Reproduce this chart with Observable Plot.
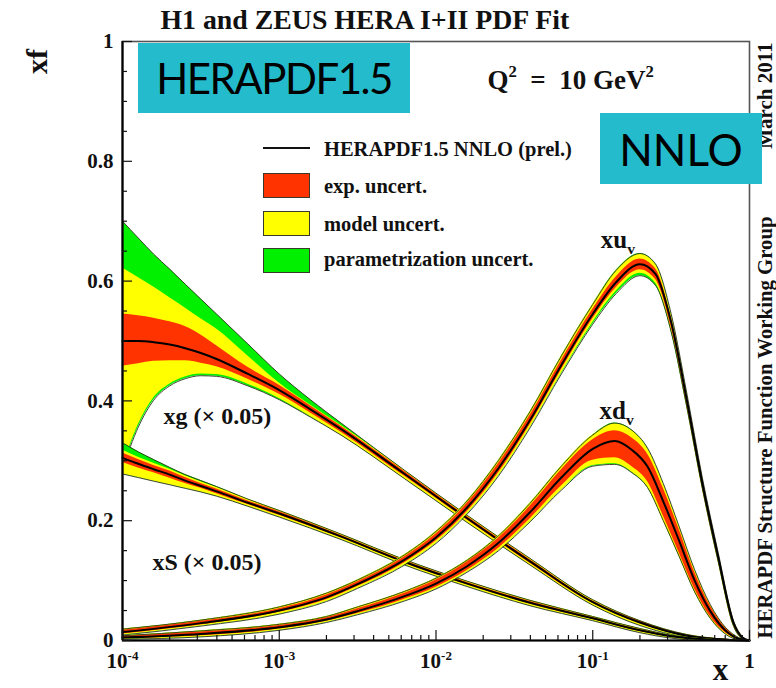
<!DOCTYPE html>
<html>
<head>
<meta charset="utf-8">
<script src="https://cdn.jsdelivr.net/npm/d3@7"></script>
<script src="https://cdn.jsdelivr.net/npm/@observablehq/plot@0.6"></script>
<style>
  html, body { margin: 0; padding: 0; background: #fff; }
  #chart { position: relative; width: 776px; height: 688px; overflow: hidden; }
  #chart svg { position: absolute; left: 0; top: 0; }
  .tag { position: absolute; background: #24bccc; color: #000; font-family: Lato, "Open Sans", sans-serif;
         display: flex; align-items: center; justify-content: center; }
  .legend { position: absolute; left: 0; top: 0; font-family: "Liberation Serif", serif; font-weight: bold; }
  .legend .sw { position: absolute; width: 45px; height: 23px; border: 1.5px solid #3a3a2a; }
  .legend .ln { position: absolute; width: 47px; height: 0; border-top: 2px solid #111; }
  .legend .lab { position: absolute; font-size: 20.5px; line-height: 1; white-space: nowrap; color: #111; }
</style>
</head>
<body>
<div id="chart"></div>
<script>
// HERAPDF1.5 NNLO parton distributions at Q^2 = 10 GeV^2 (xg and xS scaled by 0.05)

// axis ticks
const xTicks = [1e-4, 1e-3, 1e-2, 1e-1, 1];
const xTickLabels = ["10^{-4}", "10^{-3}", "10^{-2}", "10^{-1}", "1"];
const yTicks = [0, 0.2, 0.4, 0.6, 0.8, 1];
const yTickLabels = ["0", "0.2", "0.4", "0.6", "0.8", "1"];
const yMinorStep = 0.05;

// gluon xg (x 0.05)
const xgX       = [1e-4, 1.26e-4, 1.58e-4, 2.0e-4, 2.51e-4, 3.16e-4, 3.98e-4, 6.31e-4, 1e-3, 1.58e-3, 2.51e-3, 6.31e-3, 0.0158, 0.0398, 0.1, 0.2, 0.398, 0.631, 1];
const xgCentral = [0.500, 0.500, 0.498, 0.494, 0.488, 0.480, 0.470, 0.445, 0.418, 0.386, 0.352, 0.278, 0.204, 0.132, 0.064, 0.030, 0.008, 0.002, 0];
const xgExpHi   = [0.545, 0.542, 0.538, 0.532, 0.524, 0.510, 0.492, 0.456, 0.426, 0.392, 0.357, 0.282, 0.207, 0.135, 0.066, 0.032, 0.009, 0.003, 0];
const xgExpLo   = [0.458, 0.462, 0.466, 0.467, 0.467, 0.463, 0.457, 0.436, 0.411, 0.380, 0.347, 0.274, 0.201, 0.129, 0.062, 0.028, 0.007, 0.001, 0];
const xgModHi   = [0.622, 0.606, 0.590, 0.572, 0.555, 0.537, 0.520, 0.475, 0.430, 0.393, 0.358, 0.284, 0.209, 0.137, 0.068, 0.033, 0.010, 0.003, 0];
const xgModLo   = [0.290, 0.360, 0.405, 0.428, 0.440, 0.445, 0.444, 0.428, 0.404, 0.374, 0.342, 0.270, 0.197, 0.126, 0.059, 0.025, 0.005, 0.000, 0];
const xgParHi   = [0.700, 0.672, 0.645, 0.620, 0.595, 0.570, 0.545, 0.495, 0.445, 0.402, 0.362, 0.284, 0.209, 0.137, 0.068, 0.033, 0.010, 0.003, 0];
const xgParLo   = [0.287, 0.356, 0.401, 0.425, 0.437, 0.442, 0.441, 0.425, 0.402, 0.373, 0.342, 0.270, 0.197, 0.126, 0.059, 0.025, 0.005, 0.000, 0];

// sea xS (x 0.05)
const xsX       = [1e-4, 1.26e-4, 1.58e-4, 2.0e-4, 2.51e-4, 3.16e-4, 3.98e-4, 6.31e-4, 1e-3, 2.51e-3, 6.31e-3, 0.0158, 0.0398, 0.1, 0.2, 0.316, 0.5, 1];
const xsCentral = [0.305, 0.295, 0.286, 0.277, 0.267, 0.258, 0.249, 0.230, 0.212, 0.173, 0.131, 0.095, 0.063, 0.037, 0.017, 0.007, 0.002, 0];
const xsExpHi   = [0.313, 0.302, 0.292, 0.283, 0.272, 0.262, 0.253, 0.233, 0.215, 0.175, 0.133, 0.097, 0.065, 0.038, 0.018, 0.008, 0.002, 0];
const xsExpLo   = [0.297, 0.288, 0.280, 0.271, 0.262, 0.254, 0.245, 0.227, 0.209, 0.171, 0.129, 0.093, 0.061, 0.035, 0.015, 0.006, 0.001, 0];
const xsModHi   = [0.318, 0.306, 0.296, 0.286, 0.275, 0.265, 0.256, 0.236, 0.217, 0.177, 0.135, 0.099, 0.067, 0.040, 0.020, 0.009, 0.003, 0];
const xsModLo   = [0.278, 0.272, 0.266, 0.260, 0.254, 0.248, 0.241, 0.224, 0.206, 0.168, 0.126, 0.090, 0.058, 0.033, 0.013, 0.004, 0.000, 0];
const xsParHi   = [0.330, 0.315, 0.302, 0.289, 0.277, 0.267, 0.257, 0.236, 0.217, 0.177, 0.135, 0.099, 0.067, 0.040, 0.020, 0.009, 0.003, 0];
const xsParLo   = [0.278, 0.272, 0.266, 0.260, 0.254, 0.248, 0.241, 0.224, 0.206, 0.168, 0.126, 0.090, 0.058, 0.033, 0.013, 0.004, 0.000, 0];

// valence up xu_v
const xuX       = [1e-4, 3.16e-4, 1e-3, 2e-3, 3.16e-3, 6.31e-3, 0.01, 0.0158, 0.0251, 0.0398, 0.0631, 0.1, 0.141, 0.2, 0.251, 0.316, 0.398, 0.5, 0.631, 0.794, 0.891, 1];
const xuCentral = [0.014, 0.029, 0.050, 0.072, 0.094, 0.135, 0.172, 0.222, 0.288, 0.368, 0.460, 0.545, 0.598, 0.628, 0.612, 0.532, 0.402, 0.263, 0.140, 0.028, 0.006, 0];
const xuExpHi   = [0.017, 0.032, 0.053, 0.076, 0.098, 0.140, 0.178, 0.229, 0.296, 0.376, 0.468, 0.553, 0.607, 0.637, 0.621, 0.540, 0.409, 0.269, 0.145, 0.031, 0.007, 0];
const xuExpLo   = [0.011, 0.026, 0.047, 0.068, 0.090, 0.130, 0.166, 0.215, 0.280, 0.360, 0.452, 0.537, 0.589, 0.619, 0.603, 0.524, 0.395, 0.257, 0.135, 0.025, 0.005, 0];
const xuModHi   = [0.019, 0.034, 0.056, 0.079, 0.101, 0.143, 0.182, 0.233, 0.301, 0.382, 0.475, 0.561, 0.617, 0.645, 0.628, 0.546, 0.413, 0.272, 0.147, 0.032, 0.008, 0];
const xuModLo   = [0.009, 0.024, 0.044, 0.065, 0.087, 0.126, 0.162, 0.211, 0.275, 0.355, 0.446, 0.531, 0.583, 0.613, 0.597, 0.519, 0.391, 0.254, 0.132, 0.023, 0.004, 0];
const xuParHi   = [0.019, 0.034, 0.056, 0.079, 0.101, 0.143, 0.182, 0.233, 0.301, 0.382, 0.475, 0.561, 0.618, 0.646, 0.629, 0.546, 0.413, 0.272, 0.147, 0.032, 0.008, 0];
const xuParLo   = [0.009, 0.024, 0.044, 0.065, 0.087, 0.126, 0.162, 0.211, 0.275, 0.355, 0.445, 0.528, 0.579, 0.609, 0.593, 0.516, 0.390, 0.254, 0.132, 0.023, 0.004, 0];

// valence down xd_v
const xdX       = [1e-4, 3.16e-4, 1e-3, 2e-3, 3.16e-3, 6.31e-3, 0.01, 0.0158, 0.0251, 0.0398, 0.0631, 0.1, 0.138, 0.178, 0.224, 0.282, 0.355, 0.447, 0.562, 0.708, 0.851, 1];
const xdCentral = [0.005, 0.011, 0.022, 0.035, 0.049, 0.074, 0.095, 0.124, 0.163, 0.214, 0.272, 0.320, 0.333, 0.318, 0.290, 0.232, 0.167, 0.100, 0.049, 0.016, 0.003, 0];
const xdExpHi   = [0.007, 0.014, 0.025, 0.038, 0.053, 0.079, 0.101, 0.131, 0.171, 0.224, 0.285, 0.335, 0.350, 0.338, 0.311, 0.254, 0.186, 0.114, 0.058, 0.020, 0.004, 0];
const xdExpLo   = [0.003, 0.008, 0.019, 0.032, 0.045, 0.069, 0.089, 0.117, 0.154, 0.203, 0.258, 0.301, 0.305, 0.290, 0.265, 0.208, 0.147, 0.086, 0.040, 0.012, 0.002, 0];
const xdModHi   = [0.008, 0.016, 0.027, 0.040, 0.056, 0.082, 0.104, 0.134, 0.175, 0.229, 0.291, 0.343, 0.362, 0.350, 0.320, 0.262, 0.191, 0.118, 0.060, 0.021, 0.005, 0];
const xdModLo   = [0.002, 0.006, 0.017, 0.030, 0.043, 0.066, 0.086, 0.114, 0.150, 0.198, 0.251, 0.292, 0.295, 0.281, 0.256, 0.200, 0.141, 0.081, 0.037, 0.010, 0.001, 0];
const xdParHi   = [0.008, 0.016, 0.027, 0.040, 0.056, 0.082, 0.104, 0.134, 0.175, 0.229, 0.291, 0.343, 0.363, 0.351, 0.321, 0.262, 0.191, 0.118, 0.060, 0.021, 0.005, 0];
const xdParLo   = [0.002, 0.006, 0.017, 0.030, 0.043, 0.066, 0.086, 0.114, 0.150, 0.198, 0.251, 0.291, 0.294, 0.280, 0.255, 0.200, 0.141, 0.081, 0.037, 0.010, 0.001, 0];

const legendItems = ["HERAPDF1.5 NNLO (prel.)", "exp. uncert.", "model uncert.", "parametrization uncert."];

const colExp = "#ff3300", colMod = "#ffff00", colPar = "#00f000";
const curve = "monotone-x";
const serif = "'Liberation Serif', 'Times New Roman', serif";

function table(xs, c, eLo, eHi, mLo, mHi, pLo, pHi) {
  return xs.map((x, i) => ({x, c: c[i], eLo: eLo[i], eHi: eHi[i], mLo: mLo[i], mHi: mHi[i], pLo: pLo[i], pHi: pHi[i]}));
}

function pdfMarks(rows) {
  return [
    Plot.areaY(rows, {x: "x", y1: "pLo", y2: "pHi", fill: colPar, curve}),
    Plot.areaY(rows, {x: "x", y1: "mLo", y2: "mHi", fill: colMod, curve}),
    Plot.areaY(rows, {x: "x", y1: "eLo", y2: "eHi", fill: colExp, curve}),
    Plot.lineY(rows, {x: "x", y: "pLo", stroke: "#2a3318", strokeWidth: 0.9, curve}),
    Plot.lineY(rows, {x: "x", y: "pHi", stroke: "#2a3318", strokeWidth: 0.9, curve}),
    Plot.lineY(rows, {x: "x", y: "c", stroke: "#000", strokeWidth: 2, curve})
  ];
}

const xg = table(xgX, xgCentral, xgExpLo, xgExpHi, xgModLo, xgModHi, xgParLo, xgParHi);
const xs = table(xsX, xsCentral, xsExpLo, xsExpHi, xsModLo, xsModHi, xsParLo, xsParHi);
const xu = table(xuX, xuCentral, xuExpLo, xuExpHi, xuModLo, xuModHi, xuParLo, xuParHi);
const xd = table(xdX, xdCentral, xdExpLo, xdExpHi, xdModLo, xdModHi, xdParLo, xdParHi);

const peak = rows => rows.reduce((a, b) => (b.c > a.c ? b : a));

// minor ticks
const xMinor = xTicks.slice(0, -1).flatMap(t => d3.range(2, 10).map(k => k * t));
const yMinor = d3.range(0, 1 + 1e-9, yMinorStep).map(v => +v.toFixed(2)).filter(v => !yTicks.includes(v));

const textStyle = {fontFamily: serif, fontWeight: "bold", fill: "#111"};

const plot = Plot.plot({
  width: 776,
  height: 688,
  marginLeft: 122,
  marginRight: 27,
  marginTop: 41,
  marginBottom: 48,
  style: {fontFamily: serif, fontWeight: "bold", background: "transparent", color: "#111"},
  x: {type: "log", domain: [1e-4, 1]},
  y: {domain: [0, 1]},
  marks: [
    ...pdfMarks(xg),
    ...pdfMarks(xs),
    ...pdfMarks(xu),
    ...pdfMarks(xd),
    Plot.frame({stroke: "#555", strokeWidth: 1.6}),
    Plot.ruleX([xTicks[0]], {stroke: "#000", strokeWidth: 2.2}),
    Plot.ruleY([yTicks[0]], {stroke: "#000", strokeWidth: 2.2}),
    // inward ticks
    Plot.axisX({ticks: xTicks, tickSize: -10, tickFormat: () => "", label: null, strokeWidth: 1.2}),
    Plot.axisX({ticks: xMinor, tickSize: -5, tickFormat: () => "", label: null, strokeWidth: 1.2}),
    Plot.axisY({ticks: yTicks, tickSize: -10, tickFormat: () => "", label: null, strokeWidth: 1.2}),
    Plot.axisY({ticks: yMinor, tickSize: -5, tickFormat: () => "", label: null, strokeWidth: 1.2}),
    // tick labels
    Plot.axisX({ticks: xTicks, tickSize: 0, tickPadding: 13, label: null, fontSize: 21, ...textStyle,
      tickFormat: d => xTickLabels[xTicks.indexOf(d)]}),
    Plot.axisY({ticks: yTicks, tickSize: 0, tickPadding: 9, label: null, fontSize: 21, ...textStyle,
      tickFormat: d => yTickLabels[yTicks.indexOf(d)]}),
    // curve labels
    Plot.text([peak(xu)], {x: "x", y: "c", text: () => "xu_{v}", dx: -22, dy: -16, lineAnchor: "bottom",
      fontSize: 25, ...textStyle}),
    Plot.text([peak(xd)], {x: "x", y: "c", text: () => "xd_{v}", dx: 2, dy: -22, lineAnchor: "bottom",
      fontSize: 25, ...textStyle}),
    Plot.text(["xg (\u00d7 0.05)"], {frameAnchor: "top-left", dx: 41, dy: 382, textAnchor: "start",
      lineAnchor: "bottom", fontSize: 24, ...textStyle}),
    Plot.text(["xS (\u00d7 0.05)"], {frameAnchor: "top-left", dx: 30, dy: 528, textAnchor: "start",
      lineAnchor: "bottom", fontSize: 24, ...textStyle}),
    // titles and notes
    Plot.text(["H1 and ZEUS HERA I+II PDF Fit"], {frameAnchor: "top-left", dx: 38, dy: -13, textAnchor: "start",
      lineAnchor: "bottom", fontSize: 27.8, ...textStyle}),
    Plot.text(["Q^{2}\u2002=\u200210 GeV^{2}"], {frameAnchor: "top-left", dx: 365, dy: 47, textAnchor: "start",
      lineAnchor: "bottom", fontSize: 27, ...textStyle}),
    Plot.text(["xf"], {frameAnchor: "top-left", dx: -85, dy: 20, rotate: -90, textAnchor: "middle",
      lineAnchor: "middle", fontSize: 30, ...textStyle}),
    Plot.text(["x"], {frameAnchor: "bottom-right", dx: -29, dy: 39, textAnchor: "middle",
      lineAnchor: "bottom", fontSize: 31, ...textStyle}),
    Plot.text(["HERAPDF Structure Function Working Group"], {frameAnchor: "bottom-right", dx: 16, dy: -2,
      rotate: -90, textAnchor: "start", lineAnchor: "middle", fontSize: 20.8, ...textStyle}),
    Plot.text(["March 2011"], {frameAnchor: "top-right", dx: 16, dy: 1,
      rotate: -90, textAnchor: "end", lineAnchor: "middle", fontSize: 21, ...textStyle})
  ]
});

const chart = document.getElementById("chart");
chart.appendChild(plot);

// turn ^{..} and _{..} markup into raised / lowered tspans
function richText(svg) {
  svg.querySelectorAll("text").forEach(t => {
    const s = t.textContent;
    if (!/[\^_]\{/.test(s)) return;
    const fs = parseFloat(getComputedStyle(t).fontSize) || 16;
    while (t.firstChild) t.removeChild(t.firstChild);
    const re = /([\^_])\{([^}]*)\}/g;
    let last = 0, m, shift = 0;
    const add = (txt, dy, small) => {
      const ts = document.createElementNS("http://www.w3.org/2000/svg", "tspan");
      ts.textContent = txt;
      if (dy) ts.setAttribute("dy", dy);
      if (small) ts.setAttribute("font-size", (fs * 0.62).toFixed(1));
      t.appendChild(ts);
    };
    while ((m = re.exec(s))) {
      if (m.index > last) { add(s.slice(last, m.index), -shift); shift = 0; }
      const d = m[1] === "^" ? -0.42 * fs : 0.22 * fs;
      add(m[2], d - shift, true);
      shift = d;
      last = re.lastIndex;
    }
    if (last < s.length) add(s.slice(last), -shift);
  });
}
richText(plot);

// legend
const legend = document.createElement("div");
legend.className = "legend";
const lineEl = document.createElement("div");
lineEl.className = "ln";
lineEl.style.left = "263px"; lineEl.style.top = "147px";
legend.appendChild(lineEl);
[colExp, colMod, colPar].forEach((c, i) => {
  const sw = document.createElement("div");
  sw.className = "sw";
  sw.style.background = c;
  sw.style.left = "263px";
  sw.style.top = [173, 211, 248][i] + "px";
  legend.appendChild(sw);
});
legendItems.forEach((txt, i) => {
  const lab = document.createElement("div");
  lab.className = "lab";
  lab.textContent = txt;
  lab.style.left = "324px";
  lab.style.top = ([156, 193, 231, 266][i] - 17) + "px";
  legend.appendChild(lab);
});
chart.appendChild(legend);

// highlighted tags
[["HERAPDF1.5", 138, 43, 272, 70, 42, -1.5], ["NNLO", 600, 113, 162, 71, 44, 0]].forEach(([txt, l, t, w, h, fs, ls]) => {
  const d = document.createElement("div");
  d.className = "tag";
  d.textContent = txt;
  Object.assign(d.style, {left: l + "px", top: t + "px", width: w + "px", height: h + "px",
    fontSize: fs + "px", letterSpacing: ls + "px"});
  chart.appendChild(d);
});
</script>
</body>
</html>
